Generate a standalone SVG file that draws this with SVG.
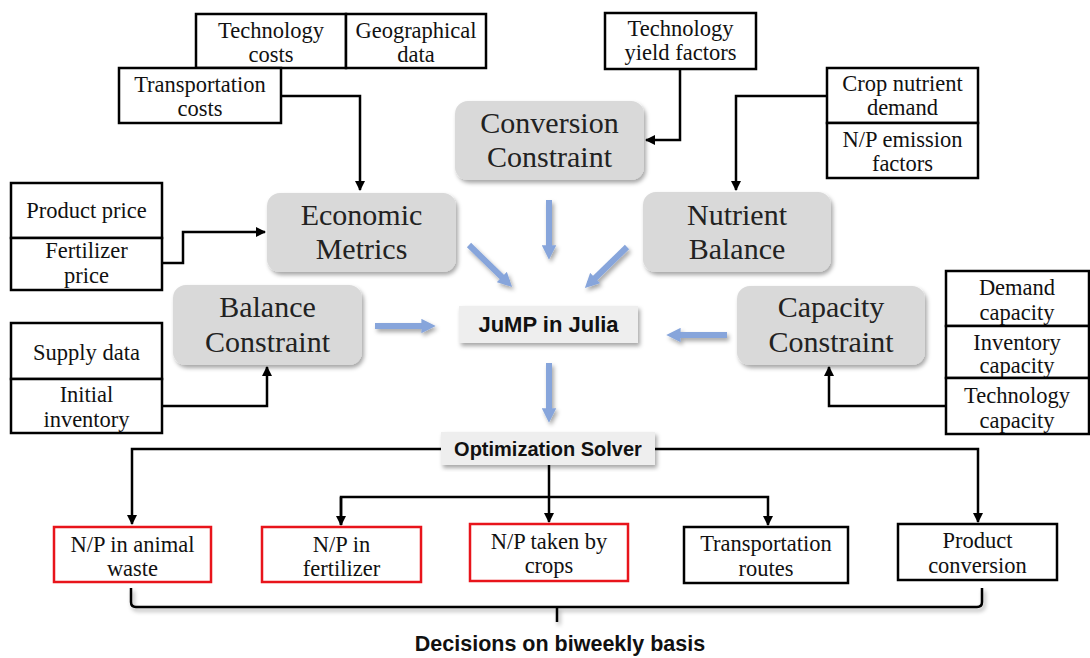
<svg xmlns="http://www.w3.org/2000/svg" width="1090" height="658" viewBox="0 0 1090 658">
<defs>
<style>
.bx{fill:#fff;stroke:#000;stroke-width:2.5}
.rb{fill:#fff;stroke:#e8141b;stroke-width:2.5}
.gb{fill:#d9d9d9;stroke:none}
.lb{fill:#eeeeee;stroke:none}
.t{font-family:"Liberation Serif",serif;font-size:22.5px;fill:#111;text-anchor:middle}
.T{font-family:"Liberation Serif",serif;font-size:30px;fill:#222;text-anchor:middle}
.s{font-family:"Liberation Sans",Arial,sans-serif;font-weight:bold;fill:#111;text-anchor:middle}
.ln{fill:none;stroke:#000;stroke-width:2.5}
.bl{fill:none;stroke:#87a5db;stroke-width:6}
</style>
<marker id="ah" viewBox="0 0 10 10" refX="9" refY="5" markerWidth="4" markerHeight="4" orient="auto" markerUnits="strokeWidth">
<path d="M0,0 L10,5 L0,10 z" fill="#000"/>
</marker>
<marker id="bh" viewBox="0 0 10 10" refX="6" refY="5" markerWidth="2.4" markerHeight="2.4" orient="auto" markerUnits="strokeWidth">
<path d="M0,0 L10,5 L0,10 z" fill="#87a5db"/>
</marker>
<filter id="sh" x="-10%" y="-10%" width="125%" height="130%">
<feDropShadow dx="2" dy="3" stdDeviation="2" flood-color="#000" flood-opacity="0.35"/>
</filter>
</defs>

<g id="connectors">
<path class="ln" d="M281,96 H360 V190" marker-end="url(#ah)"/>
<path class="ln" d="M162,263 H183 V232 H265" marker-end="url(#ah)"/>
<path class="ln" d="M680,69 V140 H646" marker-end="url(#ah)"/>
<path class="ln" d="M827,96 H736 V190" marker-end="url(#ah)"/>
<path class="ln" d="M162,406 H267 V367" marker-end="url(#ah)"/>
<path class="ln" d="M946,406 H829 V367" marker-end="url(#ah)"/>
<path class="ln" d="M441,449 H132 V524" marker-end="url(#ah)"/>
<path class="ln" d="M655,449 H978 V522" marker-end="url(#ah)"/>
<path class="ln" d="M549,465 V522" marker-end="url(#ah)"/>
<path class="ln" d="M341,525 V497 H768 V525" marker-end="url(#ah)"/>
<path class="ln" d="M341,497 V525" marker-end="url(#ah)"/>
<g filter="url(#sh)">
<path class="bl" d="M549,200 V254" marker-end="url(#bh)"/>
<path class="bl" d="M469,245 L508,283" marker-end="url(#bh)"/>
<path class="bl" d="M627,247 L589,284" marker-end="url(#bh)"/>
<path class="bl" d="M375,326 H430" marker-end="url(#bh)"/>
<path class="bl" d="M727,335 H672" marker-end="url(#bh)"/>
<path class="bl" d="M549,363 V417" marker-end="url(#bh)"/>
</g>
<g filter="url(#sh)">
<path class="ln" d="M131,588 V602 Q131,607 136,607 H977 Q982,607 982,602 V588"/>
<path class="ln" d="M557,607 V622"/>
</g>
</g>

<g id="tech-costs"><rect class="bx" x="196" y="14" width="150" height="54"/><text class="t" x="271" y="38">Technology</text><text class="t" x="271" y="62">costs</text></g>
<g id="geo-data"><rect class="bx" x="346" y="14" width="140" height="54"/><text class="t" x="416" y="38">Geographical</text><text class="t" x="416" y="62">data</text></g>
<g id="transport-costs"><rect class="bx" x="119" y="68" width="162" height="55"/><text class="t" x="200" y="92">Transportation</text><text class="t" x="200" y="116">costs</text></g>
<g id="product-price"><rect class="bx" x="11" y="183" width="151" height="55"/><text class="t" x="86.5" y="218">Product price</text></g>
<g id="fertilizer-price"><rect class="bx" x="11" y="238" width="151" height="52"/><text class="t" x="86.5" y="258">Fertilizer</text><text class="t" x="86.5" y="283">price</text></g>
<g id="yield-factors"><rect class="bx" x="605" y="13" width="151" height="56"/><text class="t" x="680.5" y="36">Technology</text><text class="t" x="680.5" y="60">yield factors</text></g>
<g id="crop-demand"><rect class="bx" x="827" y="68" width="151" height="55"/><text class="t" x="902.5" y="91">Crop nutrient</text><text class="t" x="902.5" y="115">demand</text></g>
<g id="emission-factors"><rect class="bx" x="827" y="123" width="151" height="55"/><text class="t" x="902.5" y="147">N/P emission</text><text class="t" x="902.5" y="171">factors</text></g>
<g id="supply-data"><rect class="bx" x="11" y="323" width="151" height="56"/><text class="t" x="86.5" y="360">Supply data</text></g>
<g id="initial-inventory"><rect class="bx" x="11" y="379" width="151" height="54"/><text class="t" x="86.5" y="402">Initial</text><text class="t" x="86.5" y="427">inventory</text></g>
<g id="demand-capacity"><rect class="bx" x="946" y="271" width="143" height="55"/><text class="t" x="1017" y="295">Demand</text><text class="t" x="1017" y="320">capacity</text></g>
<g id="inventory-capacity"><rect class="bx" x="946" y="326" width="143" height="52"/><text class="t" x="1017" y="350">Inventory</text><text class="t" x="1017" y="373">capacity</text></g>
<g id="technology-capacity"><rect class="bx" x="946" y="378" width="143" height="56"/><text class="t" x="1017" y="403">Technology</text><text class="t" x="1017" y="428">capacity</text></g>

<g id="economic-metrics"><rect class="gb" filter="url(#sh)" x="267" y="193" width="189" height="79" rx="13"/><text class="T" x="361.5" y="225">Economic</text><text class="T" x="361.5" y="259">Metrics</text></g>
<g id="conversion-constraint"><rect class="gb" filter="url(#sh)" x="455" y="101" width="189" height="79" rx="13"/><text class="T" x="549.5" y="133">Conversion</text><text class="T" x="549.5" y="167">Constraint</text></g>
<g id="nutrient-balance"><rect class="gb" filter="url(#sh)" x="643" y="192" width="188" height="80" rx="13"/><text class="T" x="737" y="225">Nutrient</text><text class="T" x="737" y="259">Balance</text></g>
<g id="balance-constraint"><rect class="gb" filter="url(#sh)" x="173" y="285" width="189" height="80" rx="13"/><text class="T" x="267.5" y="317">Balance</text><text class="T" x="267.5" y="352">Constraint</text></g>
<g id="capacity-constraint"><rect class="gb" filter="url(#sh)" x="737" y="286" width="188" height="79" rx="13"/><text class="T" x="831" y="317">Capacity</text><text class="T" x="831" y="352">Constraint</text></g>

<g id="jump"><rect class="lb" filter="url(#sh)" x="459" y="306" width="179" height="37"/><text class="s" x="548.5" y="332" font-size="22">JuMP in Julia</text></g>
<g id="solver"><rect class="lb" filter="url(#sh)" x="441" y="432" width="214" height="33"/><text class="s" x="548" y="456" font-size="20">Optimization Solver</text></g>

<g id="np-animal"><rect class="rb" x="54" y="527" width="157" height="55"/><text class="t" x="132.5" y="552">N/P in animal</text><text class="t" x="132.5" y="576">waste</text></g>
<g id="np-fertilizer"><rect class="rb" x="262" y="527" width="159" height="55"/><text class="t" x="341.5" y="552">N/P in</text><text class="t" x="341.5" y="576">fertilizer</text></g>
<g id="np-crops"><rect class="rb" x="470" y="524" width="158" height="57"/><text class="t" x="549" y="549">N/P taken by</text><text class="t" x="549" y="573">crops</text></g>
<g id="transport-routes"><rect class="bx" x="684" y="527" width="164" height="56"/><text class="t" x="766" y="551">Transportation</text><text class="t" x="766" y="576">routes</text></g>
<g id="product-conversion"><rect class="bx" x="898" y="524" width="159" height="56"/><text class="t" x="977.5" y="548">Product</text><text class="t" x="977.5" y="573">conversion</text></g>

<text class="s" x="560" y="651" font-size="21.5">Decisions on biweekly basis</text>
</svg>
